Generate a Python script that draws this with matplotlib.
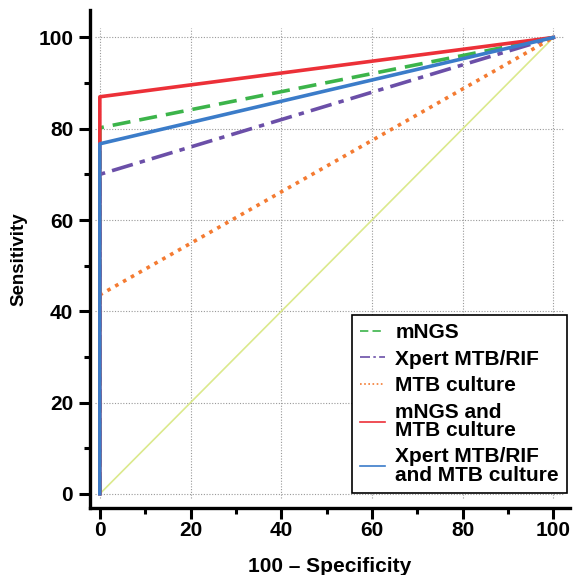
import matplotlib
matplotlib.use("Agg")
import matplotlib.pyplot as plt
from matplotlib.ticker import MultipleLocator

plt.rcParams["font.family"] = ["Liberation Sans", "DejaVu Sans"]

# ROC curves: (100 - specificity, sensitivity) points
labels = ["mNGS", "Xpert MTB/RIF", "MTB culture",
          "mNGS and\nMTB culture", "Xpert MTB/RIF\nand MTB culture"]
fpr = [0, 0, 100]
sens_mngs = [0, 80.2, 100]
sens_xpert = [0, 70.0, 100]
sens_culture = [0, 43.6, 100]
sens_mngs_culture = [0, 87.0, 100]
sens_xpert_culture = [0, 76.7, 100]
diag = [0, 100]

COLORS = ["#3cb44a", "#6b4fa8", "#f47b32", "#ec3038", "#3b7cc9"]
STYLES = [(0, (5, 2.5)), (0, (6, 2, 1.5, 2)), (0, (1, 1.5)), "-", "-"]

fig = plt.figure(figsize=(5.76, 5.75), dpi=100)
ax = fig.add_axes([0.156, 0.1165, 0.834, 0.866])

ax.set_xlim(-2.2, 103.7)
ax.set_ylim(-3.1, 106)

# grid restricted to the data area
for g in range(0, 101, 20):
    ax.plot([g, g], [-1, 102], color="#999999", lw=0.8, ls=(0, (1, 1.5)), zorder=0)
    ax.plot([-1, 102], [g, g], color="#999999", lw=0.8, ls=(0, (1, 1.5)), zorder=0)

ax.plot(diag, diag, color="#dbe98c", lw=1.2, zorder=1)

series = [sens_mngs, sens_xpert, sens_culture, sens_mngs_culture, sens_xpert_culture]
for ys, lab, c, ls in zip(series, labels, COLORS, STYLES):
    ax.plot(fpr, ys, color=c, ls=ls, lw=2.6, label=lab, zorder=2)

for s in ("top", "right"):
    ax.spines[s].set_visible(False)
for s in ("left", "bottom"):
    ax.spines[s].set_linewidth(2.4)

ax.xaxis.set_major_locator(MultipleLocator(20))
ax.yaxis.set_major_locator(MultipleLocator(20))
ax.xaxis.set_minor_locator(MultipleLocator(10))
ax.yaxis.set_minor_locator(MultipleLocator(10))
ax.tick_params(which="major", length=8, width=2.2, labelsize=15)
ax.tick_params(axis="x", which="major", pad=1.5)
ax.tick_params(axis="y", which="major", pad=4)
ax.tick_params(which="minor", length=4, width=2.2)
for t in ax.get_xticklabels() + ax.get_yticklabels():
    t.set_fontweight("bold")

ax.set_xlabel("100 – Specificity", fontsize=15, fontweight="bold", labelpad=12)
ax.set_ylabel("Sensitivity", fontsize=13.5, fontweight="bold", labelpad=8)

leg = ax.legend(loc="lower right", bbox_to_anchor=(0.994, 0.03),
                prop={"weight": "bold", "size": 15}, handlelength=1.2,
                fancybox=False, framealpha=1, edgecolor="black",
                borderpad=0.4, labelspacing=0.36, handletextpad=0.5,
                borderaxespad=0)
leg.get_frame().set_linewidth(1.2)
for h in leg.get_lines():
    h.set_linewidth(1.2)
for t in leg.get_texts():
    t.set_linespacing(0.95)

fig.savefig("out.png", dpi=100)
